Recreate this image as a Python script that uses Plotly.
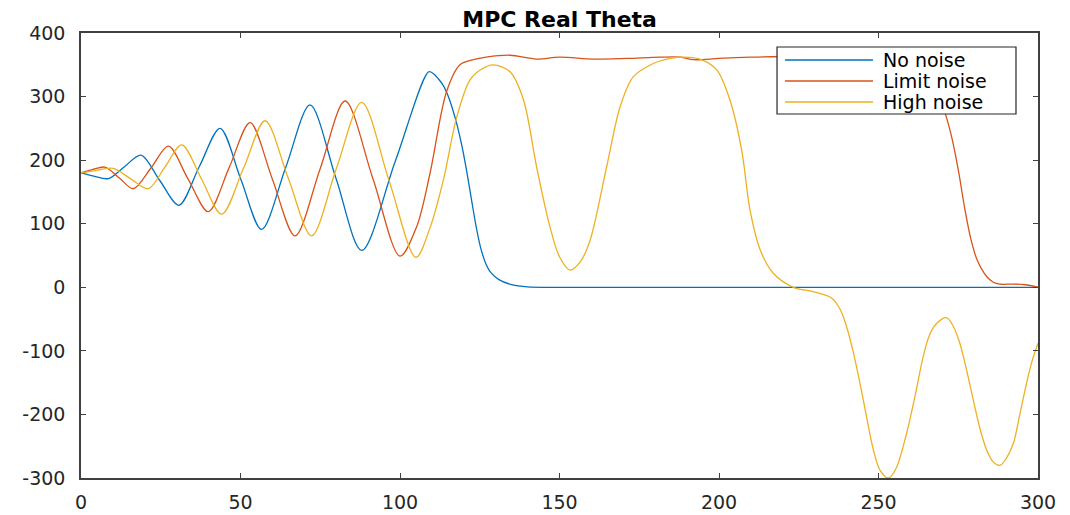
import plotly.graph_objects as go

# ---- data ----
t_no = [0, 4, 8.6, 13.7, 18.8, 24.7, 30.7, 37.1, 43.6, 50.1, 56.6, 64.2, 71.8, 79.9, 88, 98.5, 109,
        110.5, 112, 113.5, 115, 116.5, 118, 119.5, 121, 122.5, 124, 125.5, 127, 128.5, 131, 135,
        140, 150, 300]
y_no = [180, 175, 171, 190, 208, 168, 129, 190, 250, 170, 91, 189, 287, 172, 58, 198, 339,
        336, 328, 318, 302, 280, 253, 220, 180, 135, 92, 58, 36, 23, 12, 4,
        0.5, 0, 0]

t_lim = [0, 3.5, 7.5, 12, 16.4, 22, 27.4, 33.5, 39.9, 46.5, 53, 60, 67.1, 75, 82.8, 91.5, 100,
         105.2, 109.4, 114.6, 118.8, 123, 127, 134.5, 142.8, 150, 160.6, 171, 181.5, 188, 192,
         200, 210, 220, 240, 255, 261, 266, 268.5, 271, 273, 275, 277, 279, 281, 283.9, 286, 288,
         292, 296, 300]
y_lim = [180, 185, 189, 172, 155, 188, 222, 171, 119, 189, 259, 170, 81, 187, 293, 171, 49,
         95, 179, 308, 350, 358, 362, 365, 359, 362, 359, 360, 362, 362, 358,
         360, 362, 363, 363, 362, 355, 330, 305, 272, 235, 185, 125, 75, 42, 17, 8, 5,
         5, 4, 0]

t_high = [0, 5, 10.1, 15.5, 21.1, 26.3, 31.6, 37.8, 44.1, 51, 57.7, 65, 72.3, 80, 88, 96.5, 105,
          109.5, 113.6, 117.8, 121.9, 125.5, 129.2, 134.5, 138.7, 142.8, 147, 150, 153.3, 156.5,
          159.6, 164.8, 169, 173.1, 179.4, 183, 187.8, 194, 199.3, 203.4, 207.1, 209.7, 212.9,
          217, 223.3, 229.6, 235.3, 238, 240, 242, 244.2, 246.3, 248.4, 250.5, 253.1, 255.5,
          258.8, 261.5, 264, 266, 268.2, 271.4, 273.5, 275.5, 277.6, 279.7, 281.8, 283.9, 286,
          288.1, 290.2, 292.3, 294.3, 296.4, 298.2, 300]
y_high = [180, 184, 187, 171, 155, 189, 224, 170, 115, 188, 262, 171, 81, 186, 291, 169, 47,
          95, 169, 268, 326, 343, 350, 339, 295, 190, 95, 48, 27, 40,
          74, 190, 284, 331, 352, 358, 362, 359, 342, 295, 216, 122, 59,
          22, 0, -7, -17, -35, -62, -100, -151, -205, -256, -288, -300, -285,
          -230, -170, -109, -75, -57, -48, -62, -88, -130, -177, -222, -256, -275,
          -280, -268, -245, -200, -151, -115, -88]

series_names = ["No noise", "Limit noise", "High noise"]
series_colors = ["#0072BD", "#D95319", "#EDB120"]
x_ticks = [0, 50, 100, 150, 200, 250, 300]
y_ticks = [-300, -200, -100, 0, 100, 200, 300, 400]
y_ticktext = ["-300", "-200", "-100", "0", "100", "200", "300", "400"]

FONT = "DejaVu Sans"
AXC = "#404040"

fig = go.Figure()
for tt, yy, name, col in zip([t_no, t_lim, t_high], [y_no, y_lim, y_high], series_names, series_colors):
    fig.add_trace(go.Scatter(x=tt, y=yy, mode="lines", name=name, showlegend=False,
                             line=dict(color=col, width=1.3, shape="spline", smoothing=0.9)))

fig.update_layout(
    width=1070, height=515,
    margin=dict(l=81, r=32, t=33, b=37),
    paper_bgcolor="white", plot_bgcolor="white",
    font=dict(family=FONT, size=19, color="#262626"),
    title=dict(text="<b>MPC Real Theta</b>", x=0.523, xanchor="center", y=0.963, yanchor="middle",
               font=dict(family=FONT, size=22, color="#000000")),
)
fig.update_xaxes(range=[0, 300], tickvals=x_ticks, ticks="inside", ticklen=5, tickcolor=AXC,
                 showline=True, linecolor=AXC, linewidth=1.5, mirror="allticks",
                 showgrid=False, zeroline=False, ticklabelstandoff=6, automargin=False)
fig.update_yaxes(range=[-300, 400], tickvals=y_ticks, ticktext=y_ticktext, ticks="inside",
                 ticklen=5, tickcolor=AXC, showline=True, linecolor=AXC, linewidth=1.5,
                 mirror="allticks", showgrid=False, zeroline=False, ticklabelstandoff=10,
                 automargin=False)

# ---- MATLAB-style legend box ----
fig.add_shape(type="rect", xref="paper", yref="paper", x0=0.7273, x1=0.9770, y0=0.8180, y1=0.9685,
              fillcolor="white", line=dict(color="#262626", width=1.2), layer="above")
rows = [0.9393, 0.8921, 0.8449]
for name, col, ry in zip(series_names, series_colors, rows):
    fig.add_shape(type="line", xref="paper", yref="paper", x0=0.7356, x1=0.8276, y0=ry, y1=ry,
                  line=dict(color=col, width=1.3), layer="above")
    fig.add_annotation(xref="paper", yref="paper", x=0.8359, y=ry, xanchor="left", yanchor="middle",
                       text=name, showarrow=False, font=dict(family=FONT, size=19, color="#000000"))

fig.write_html("out.html")
